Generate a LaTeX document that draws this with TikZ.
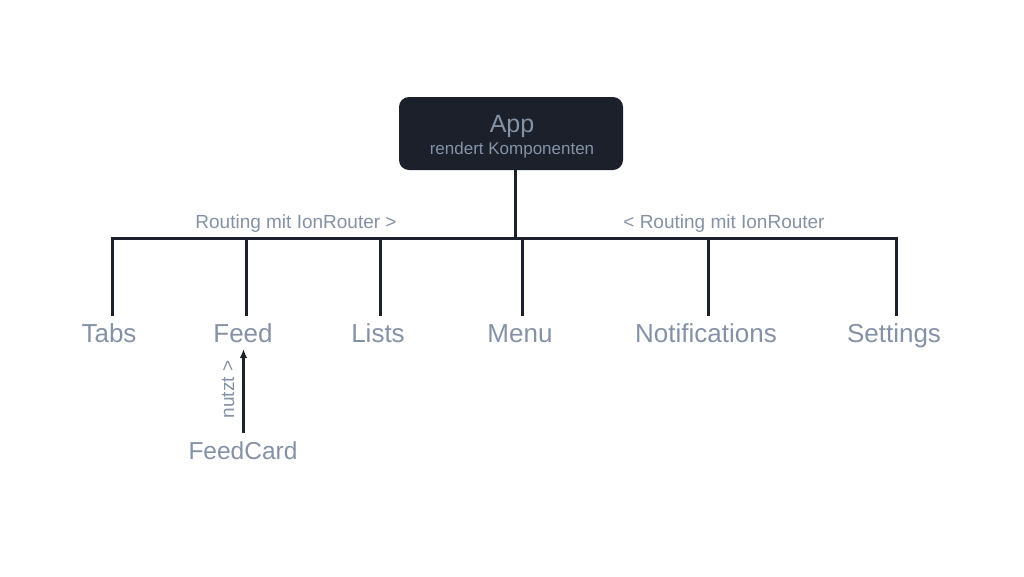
\documentclass[tikz,border=0pt]{standalone}
\usepackage{fontspec}
\setmainfont{Liberation Sans}
\usetikzlibrary{arrows.meta}
\definecolor{ink}{HTML}{1B202B}
\definecolor{txt}{HTML}{8592A6}
\tikzset{
  leaf/.style={text=txt,font=\fontsize{26}{30}\selectfont,inner sep=0pt,anchor=base},
  wire/.style={draw=ink,line width=3pt},
  lab/.style={text=txt,font=\fontsize{19}{22}\selectfont,inner sep=0pt,anchor=base},
}
\begin{document}
\begin{tikzpicture}[x=1pt,y=-1pt]
\useasboundingbox[fill=white] (0,0) rectangle (1024,576);
\node[fill=ink,rounded corners=10pt,minimum width=224pt,minimum height=73pt,inner sep=0pt] (app) at (511,133.5) {};
\node[text=txt,font=\fontsize{25}{28}\selectfont,inner sep=0pt,anchor=base] (apptitle) at (512,132) {App};
\node[text=txt,font=\fontsize{17}{20}\selectfont,inner sep=0pt,anchor=base] (appsub) at (512,154) {rendert Komponenten};
\coordinate (hub) at (515.5,238.5);
\coordinate (bl) at (111,238.5);
\coordinate (br) at (898,238.5);
\draw[wire,line width=3.2pt] (app.south -| hub) -- (hub);
\draw[wire] (bl) -- (br);
\node[leaf] (tabs) at (109,342) {Tabs};
\node[leaf] (feed) at (243,342) {Feed};
\node[leaf] (lists) at (378,342) {Lists};
\node[leaf] (menu) at (520,342) {Menu};
\node[leaf] (notif) at (706,342) {Notifications};
\node[leaf] (settings) at (894,342) {Settings};
\node[leaf,font=\fontsize{24.5}{28}\selectfont] (feedcard) at (243,459) {FeedCard};
\foreach \x in {112.5,246.5,380.5,522.5,708.5,896.5}{
  \draw[wire] (\x,237) -- (\x,316);
}
\node[lab] (r1) at (296,228) {Routing mit IonRouter >};
\node[lab] (r2) at (724,228) {< Routing mit IonRouter};
\coordinate (fc) at (243.5,433);
\coordinate (fd) at (243.5,349);
\draw[draw=ink,line width=2.7pt,-{Latex[length=9pt,width=7.5pt]}] (fc) -- (fd);
\node[lab,rotate=90,font=\fontsize{19}{22}\selectfont] (nutzt) at (234,389.5) {nutzt >};
\end{tikzpicture}
\end{document}
